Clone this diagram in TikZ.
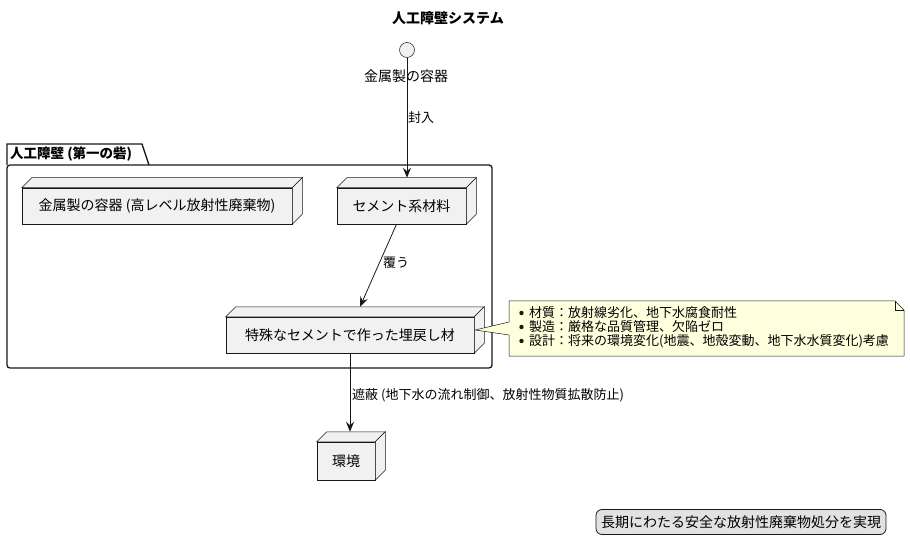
\documentclass[tikz,border=0pt]{standalone}
\usepackage{fontspec}
\setmainfont{Noto Sans CJK JP}
\usepackage{xcolor}
\usepackage{tikz}
\usetikzlibrary{arrows.meta, calc}
\definecolor{nodegray}{HTML}{F1F1F1}
\definecolor{linedark}{HTML}{181818}
\definecolor{noteyellow}{HTML}{FEFFDD}
\definecolor{legendgray}{HTML}{E2E2E2}

\tikzset{
  nodebox/.style={draw=linedark, fill=nodegray, line width=0.5pt, minimum height=36pt,
                  inner sep=0pt, font=\fontsize{14}{16}\selectfont},
  link/.style={draw=linedark, line width=0.8pt, -{Stealth[length=10pt, width=8pt, inset=3.5pt]}},
  linklabel/.style={anchor=west, inner sep=0pt, font=\fontsize{13}{15}\selectfont},
}
% top and side faces of a 3d node box
\newcommand{\nodedepth}[1]{%
  \draw[linedark, line width=0.5pt, fill=nodegray] (#1.north west) -- ++(10,-10)
    -- ($(#1.north east)+(10,-10)$) -- (#1.north east) -- cycle;
  \draw[linedark, line width=0.5pt, fill=nodegray] (#1.north east) -- ++(10,-10)
    -- ($(#1.south east)+(10,-10)$) -- (#1.south east) -- cycle;}

\begin{document}
\begin{tikzpicture}[x=1pt, y=-1pt]
    \useasboundingbox (0,0) rectangle (910,553);
    \node[font=\bfseries\fontsize{14}{16}\selectfont] (title) at (448,18) {人工障壁システム};

    % interface
    \node[circle, draw=linedark, fill=nodegray, line width=0.5pt, minimum size=15pt, inner sep=0pt] (port) at (407,50) {};
    \node[font=\fontsize{14}{16}\selectfont] (portlabel) at (406,76) {金属製の容器};

    % package
    \draw[linedark, line width=1.3pt, rounded corners=3pt] (7,165) rectangle (492,368);
    \draw[linedark, line width=1.3pt] (7,165) -- (7,144) -- (142,144) -- (149,165);
    \node[anchor=west, inner sep=0pt, font=\bfseries\fontsize{13.5}{15}\selectfont] (pkglabel) at (10,154) {人工障壁 (第一の砦)};

    \node[nodebox, minimum width=270pt] (canister) at (157,206) {金属製の容器 (高レベル放射性廃棄物)};
    \node[nodebox, minimum width=129pt] (cement) at (401.5,206) {セメント系材料};
    \node[nodebox, minimum width=248pt] (backfill) at (350,335) {特殊なセメントで作った埋戻し材};
    \node[nodebox, minimum width=58pt, minimum height=38pt] (env) at (346,461) {環境};
    \nodedepth{canister}
    \nodedepth{cement}
    \nodedepth{backfill}
    \nodedepth{env}

    \draw[link] (port.south) -- ($(cement.north)+(5.5,-10)$);
    \node[linklabel] (seallabel) at (408,118) {封入};
    \draw[link] ($(cement.south)+(-5,0)$) -- ($(backfill.north)+(10,-10)$);
    \node[linklabel] (coverlabel) at (383,263) {覆う};
    \draw[link] (backfill.south) -- ($(env.north)+(4,-10)$);
    \node[linklabel] (shieldlabel) at (352,395) {遮蔽 (地下水の流れ制御、放射性物質拡散防止)};

    % note
    \draw[linedark, line width=0.5pt, fill=noteyellow] (509,301) -- (895,301) -- (904,310) -- (904,356)
      -- (509,356) -- (509,335) -- ($(backfill.east)+(1,-5)$) -- (509,322) -- cycle;
    \draw[linedark, line width=0.5pt] (895,301) -- (895,310) -- (904,310);
    \node[anchor=west, inner sep=0pt, align=left, font=\fontsize{13}{14}\selectfont] (note) at (529,327) {%
      材質：放射線劣化、地下水腐食耐性\\
      製造：厳格な品質管理、欠陥ゼロ\\
      設計：将来の環境変化(地震、地殻変動、地下水水質変化)考慮};
    \foreach \dy in {-14,0,14}
      \fill[linedark] ($(note.west)+(-7.5,\dy)$) circle (2.2pt);

    \node[draw=linedark, fill=legendgray, line width=0.8pt, rounded corners=6pt, minimum width=290pt,
          minimum height=25pt, inner sep=0pt, font=\fontsize{14}{16}\selectfont] (legend) at (741,522)
          {長期にわたる安全な放射性廃棄物処分を実現};
\end{tikzpicture}
\end{document}
